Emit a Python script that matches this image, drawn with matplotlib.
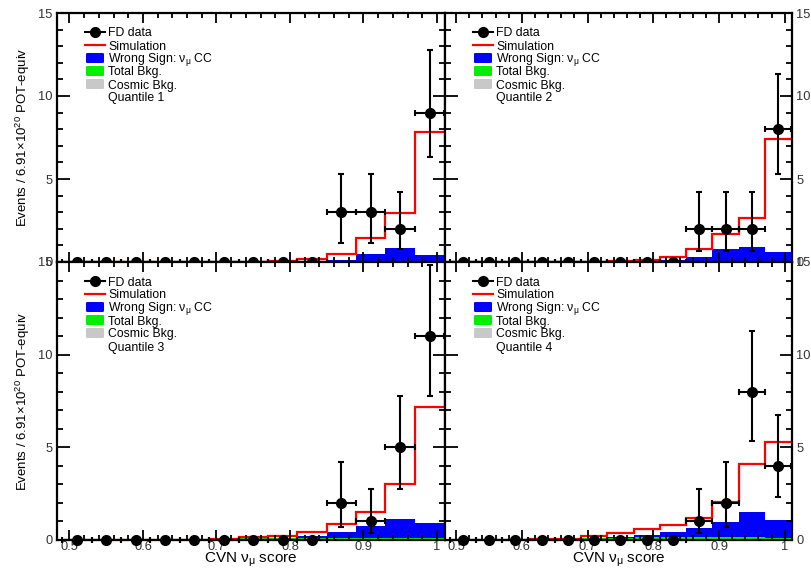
import matplotlib
matplotlib.use('Agg')
import matplotlib.pyplot as plt
from matplotlib.patches import FancyBboxPatch
from matplotlib.ticker import MultipleLocator

plt.rcParams['font.family'] = ['Liberation Sans', 'DejaVu Sans']
plt.rcParams['mathtext.fontset'] = 'custom'
plt.rcParams['mathtext.rm'] = 'Liberation Sans'
plt.rcParams['mathtext.it'] = 'Liberation Sans:italic'

# CVN bins
edges = [0.49, 0.53, 0.57, 0.61, 0.65, 0.69, 0.73, 0.77, 0.81, 0.85, 0.89, 0.93, 0.97, 1.01]
centers = [0.51, 0.55, 0.59, 0.63, 0.67, 0.71, 0.75, 0.79, 0.83, 0.87, 0.91, 0.95, 0.99]

# quantile 1
q1_data = [0, 0, 0, 0, 0, 0, 0, 0, 0, 3, 3, 2, 9]
q1_lo = [0, 0, 0, 0, 0, 0, 0, 0, 0, 1.14, 1.14, 0.78, 6.3]
q1_hi = [0, 0, 0, 0, 0, 0, 0, 0, 0, 5.3, 5.3, 4.2, 12.8]
q1_sim = [0.01, 0.01, 0.01, 0.01, 0.01, 0.02, 0.03, 0.05, 0.16, 0.46, 1.43, 2.93, 7.85]
q1_ws = [0, 0, 0, 0, 0, 0, 0.01, 0.02, 0.05, 0.12, 0.46, 0.84, 0.44]
q1_bkg = [0.08, 0.08, 0.08, 0.08, 0.08, 0.08, 0.08, 0.09, 0.09, 0.09, 0.09, 0.09, 0.09]
q1_cos = [0.06, 0.06, 0.06, 0.06, 0.06, 0.06, 0.06, 0.06, 0.06, 0.06, 0.06, 0.06, 0.06]

# quantile 2
q2_data = [0, 0, 0, 0, 0, 0, 0, 0, 0, 2, 2, 2, 8]
q2_lo = [0, 0, 0, 0, 0, 0, 0, 0, 0, 0.68, 0.68, 0.68, 5.28]
q2_hi = [0, 0, 0, 0, 0, 0, 0, 0, 0, 4.24, 4.24, 4.24, 11.3]
q2_sim = [0.01, 0.01, 0.01, 0.01, 0.01, 0.02, 0.04, 0.12, 0.32, 0.78, 1.69, 2.67, 7.39]
q2_ws = [0, 0, 0, 0, 0, 0, 0.01, 0.04, 0.1, 0.32, 0.76, 0.88, 0.62]
q2_bkg = [0.08, 0.08, 0.08, 0.08, 0.08, 0.08, 0.08, 0.09, 0.09, 0.09, 0.09, 0.09, 0.09]
q2_cos = [0.06, 0.06, 0.06, 0.06, 0.06, 0.06, 0.06, 0.06, 0.06, 0.06, 0.06, 0.06, 0.06]

# quantile 3
q3_data = [0, 0, 0, 0, 0, 0, 0, 0, 0, 2, 1, 5, 11]
q3_lo = [0, 0, 0, 0, 0, 0, 0, 0, 0, 0.72, 0.36, 2.74, 7.78]
q3_hi = [0, 0, 0, 0, 0, 0, 0, 0, 0, 4.23, 2.74, 7.78, 14.85]
q3_sim = [0.01, 0.01, 0.01, 0.01, 0.02, 0.05, 0.14, 0.23, 0.41, 0.86, 1.53, 3.01, 7.17]
q3_ws = [0, 0, 0, 0, 0, 0.02, 0.05, 0.1, 0.2, 0.45, 0.77, 1.12, 0.9]
q3_bkg = [0.08, 0.08, 0.08, 0.08, 0.08, 0.08, 0.09, 0.1, 0.1, 0.1, 0.1, 0.1, 0.1]
q3_cos = [0.06, 0.06, 0.06, 0.06, 0.06, 0.06, 0.06, 0.06, 0.06, 0.06, 0.06, 0.06, 0.06]

# quantile 4
q4_data = [0, 0, 0, 0, 0, 0, 0, 0, 0, 1, 2, 8, 4]
q4_lo = [0, 0, 0, 0, 0, 0, 0, 0, 0, 0.36, 0.72, 5.32, 2.34]
q4_hi = [0, 0, 0, 0, 0, 0, 0, 0, 0, 2.74, 4.23, 11.3, 6.76]
q4_sim = [0.01, 0.01, 0.02, 0.04, 0.08, 0.23, 0.36, 0.58, 0.8, 1.19, 2.04, 4.11, 5.28]
q4_ws = [0, 0, 0, 0.01, 0.03, 0.08, 0.15, 0.25, 0.41, 0.63, 0.99, 1.53, 1.08]
q4_bkg = [0.08, 0.08, 0.08, 0.08, 0.09, 0.1, 0.12, 0.15, 0.15, 0.15, 0.15, 0.15, 0.1]
q4_cos = [0.06, 0.06, 0.06, 0.06, 0.06, 0.06, 0.06, 0.06, 0.06, 0.06, 0.06, 0.06, 0.06]

quantiles = [
    ("Quantile 1", q1_data, q1_lo, q1_hi, q1_sim, q1_ws, q1_bkg, q1_cos),
    ("Quantile 2", q2_data, q2_lo, q2_hi, q2_sim, q2_ws, q2_bkg, q2_cos),
    ("Quantile 3", q3_data, q3_lo, q3_hi, q3_sim, q3_ws, q3_bkg, q3_cos),
    ("Quantile 4", q4_data, q4_lo, q4_hi, q4_sim, q4_ws, q4_bkg, q4_cos),
]

legend_labels = ["FD data", "Simulation", "Wrong Sign: \u03bd$_{\\mathrm{\u03bc}}$ CC",
                 "Total Bkg.", "Cosmic Bkg."]
ylabel = "Events / 6.91\u00d710$^{20}$ POT-equiv"
xlabel = "CVN \u03bd$_{\\mathrm{\u03bc}}$ score"

RED, BLUE, GREEN, GREY = '#ff0000', '#0000ff', '#00ee00', '#c8c8c8'

fig = plt.figure(figsize=(8.11, 5.69), dpi=100)
W, H = 811.0, 569.0
xl, xm, xr = 57 / W, 445 / W, 792 / W
yt, ym, yb = 1 - 13 / H, 1 - 262 / H, 1 - 540 / H
boxes = [
    [xl, ym, xm - xl, yt - ym],
    [xm, ym, xr - xm, yt - ym],
    [xl, yb, xm - xl, ym - yb],
    [xm, yb, xr - xm, ym - yb],
]


def draw_legend(ax, pw, ph, name):
    # hand placed legend rows, ROOT style (13 px apart)
    def fx(px):
        return px / pw

    def fy(py):
        return 1 - py / ph

    kw = dict(transform=ax.transAxes, clip_on=False)
    rows = [19, 32, 45, 58, 71, 84]
    # the mathtext row sits a bit low otherwise
    nudge = [0, 0, -0.7, 0, 0, 0]
    hx0, hx1, tx = 28, 48, 51
    ax.plot([fx(hx0), fx(hx1)], [fy(rows[0])] * 2, color='black', lw=1.5, **kw)
    ax.plot([fx((hx0 + hx1) / 2)], [fy(rows[0])], 'o', color='black', ms=7, **kw)
    ax.plot([fx(hx0), fx(hx1)], [fy(rows[1])] * 2, color=RED, lw=1.6, **kw)
    for r, c in zip(rows[2:5], [BLUE, GREEN, GREY]):
        ax.add_patch(FancyBboxPatch((fx(hx0 + 1), fy(r + 5)), fx(hx1 - hx0 - 2), 10 / ph,
                                    boxstyle='round,pad=0,rounding_size=0.004',
                                    facecolor=c, edgecolor='none', **kw))
    for r, n, lab in zip(rows, nudge, legend_labels + [name]):
        ax.text(fx(tx), fy(r + 4.5 + n), lab, fontsize=8.8, va='baseline', ha='left', **kw)


for i, (name, d, lo, hi, sim, ws, bkg, cos) in enumerate(quantiles):
    ax = fig.add_axes(boxes[i])
    ax.set_facecolor('white')
    left = i % 2 == 0
    bottom = i >= 2
    pw = boxes[i][2] * W
    ph = boxes[i][3] * H

    ax.stairs(ws, edges, fill=True, color=BLUE, lw=0)
    ax.stairs(bkg, edges, fill=True, color=GREEN, lw=0)
    ax.stairs(cos, edges, fill=True, color=GREY, lw=0)
    ax.stairs(sim, edges, color=RED, lw=1.6, baseline=None)

    yerr = [[d[k] - lo[k] if d[k] > 0 else 0 for k in range(len(d))],
            [hi[k] - d[k] if d[k] > 0 else 0 for k in range(len(d))]]
    eb = ax.errorbar(centers, d, xerr=0.02, yerr=yerr, fmt='o', color='black',
                     ms=7, lw=1.5, capsize=2.2, capthick=1.5, zorder=5)
    for art in eb.lines[0:1] + tuple(eb.lines[1]) + tuple(eb.lines[2]):
        art.set_clip_on(False)

    ax.set_xlim(0.483, 1.011)
    ax.set_ylim(0, 15)
    ax.xaxis.set_major_locator(MultipleLocator(0.1))
    ax.xaxis.set_minor_locator(MultipleLocator(0.02))
    ax.yaxis.set_major_locator(MultipleLocator(5))
    ax.yaxis.set_minor_locator(MultipleLocator(1))
    ax.tick_params(which='both', direction='in', top=True, right=True,
                   width=1.3, labelsize=9.3, colors='black', labelcolor='#333333')
    ax.tick_params(axis='y', which='major', length=9, pad=3)
    ax.tick_params(axis='y', which='minor', length=4.5)
    ax.tick_params(axis='x', which='major', length=7, pad=1)
    ax.tick_params(axis='x', which='minor', length=3.5)
    ax.tick_params(labelbottom=bottom, labelleft=left, labelright=not left)
    for s in ax.spines.values():
        s.set_linewidth(1.6)
    ax.xaxis.set_major_formatter(plt.FuncFormatter(lambda v, p: ('%g' % round(v, 2))))

    if left:
        ax.set_ylabel(ylabel, fontsize=9.5)
        ax.yaxis.set_label_coords(-25 / pw, 0.5)
    if bottom:
        ax.set_xlabel(xlabel, fontsize=11)
        ax.xaxis.set_label_coords(0.5, -10.5 / ph)

    draw_legend(ax, pw, ph, name)

fig.savefig('out.png', dpi=100)
